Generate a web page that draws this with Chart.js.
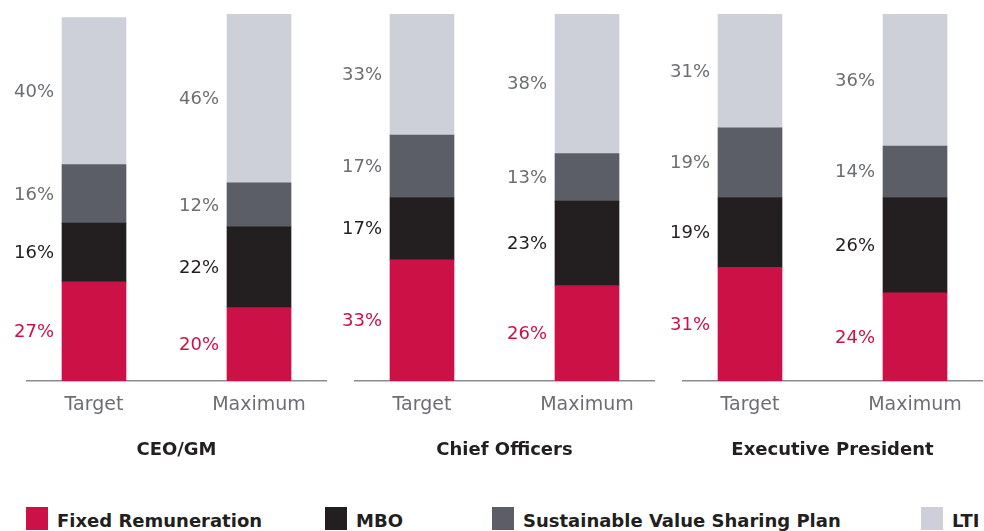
<!DOCTYPE html>
<html>
<head>
<meta charset="utf-8">
<script src="https://cdn.jsdelivr.net/npm/chart.js@4.4.1/dist/chart.umd.min.js"></script>
<style>
  html, body { margin: 0; padding: 0; background: #fff; }
  body { width: 984px; height: 531px; position: relative; overflow: hidden; font-family: "DejaVu Sans", sans-serif; }
  .panel { position: absolute; top: 0; width: 328px; height: 461px; }
  #legend { position: absolute; left: 0; top: 507px; width: 984px; height: 24px; }
  #legend ul { list-style: none; margin: 0; padding: 0; }
  #legend li { position: absolute; top: 0; display: flex; align-items: center; height: 23px; }
  #legend .box { width: 22px; height: 23px; margin-right: 9px; }
  #legend .txt { font-family: "DejaVu Sans", sans-serif; font-weight: 700; font-size: 18px; color: #231f20; padding-top: 3px; }
</style>
</head>
<body>
<div class="panel" style="left:0"><canvas id="chart-ceo"></canvas></div>
<div class="panel" style="left:328px"><canvas id="chart-chief"></canvas></div>
<div class="panel" style="left:656px"><canvas id="chart-ep"></canvas></div>
<div id="legend"><ul></ul></div>

<script>
// Data
const categories = ['Target', 'Maximum'];
const groups = ['CEO/GM', 'Chief Officers', 'Executive President'];
const seriesNames = ['Fixed Remuneration', 'MBO', 'Sustainable Value Sharing Plan', 'LTI'];

// per group: [Target, Maximum]
const fixedRemuneration = [[27, 20], [33, 26], [31, 24]];
const mbo = [[16, 22], [17, 23], [19, 26]];
const sustainablePlan = [[16, 12], [17, 13], [19, 14]];
const lti = [[40, 46], [33, 38], [31, 36]];

const barColors = ['#cc1147', '#231f20', '#5b5e66', '#cdd0d8'];
const labelColors = ['#cc1147', '#231f20', '#6b6e73', '#6b6e73'];
const legendLeft = [26, 325, 492, 921];

const canvasIds = ['chart-ceo', 'chart-chief', 'chart-ep'];

// Percent labels, drawn to the left of every segment
const segmentLabels = {
  id: 'segmentLabels',
  afterDatasetsDraw(c) {
    const ctx = c.ctx;
    ctx.save();
    ctx.font = '400 18px "DejaVu Sans", sans-serif';
    ctx.textAlign = 'right';
    ctx.textBaseline = 'middle';
    c.data.datasets.forEach((ds, i) => {
      const meta = c.getDatasetMeta(i);
      meta.data.forEach((bar, j) => {
        const p = bar.getProps(['x', 'y', 'base', 'width'], true);
        ctx.fillStyle = labelColors[i];
        ctx.fillText(ds.data[j].y + '%', p.x - p.width / 2 - 8, (p.y + p.base) / 2 + 1);
      });
    });
    ctx.restore();
  },
};

const seriesByGroup = [fixedRemuneration, mbo, sustainablePlan, lti];

groups.forEach((group, g) => {
  const ctx = document.getElementById(canvasIds[g]);
  new Chart(ctx, {
    type: 'bar',
    data: {
      datasets: seriesNames.map((name, s) => ({
        label: name,
        data: categories.map((cat, k) => ({ x: k, y: seriesByGroup[s][g][k] })),
        backgroundColor: barColors[s],
        borderWidth: 0,
        barThickness: 64,
      })),
    },
    options: {
      responsive: true,
      maintainAspectRatio: false,
      animation: false,
      layout: {
        padding: { left: 27, right: 2, top: 14, bottom: 0 },
      },
      plugins: {
        legend: { display: false },
        tooltip: { enabled: false },
      },
      scales: {
        x: {
          type: 'linear',
          stacked: true,
          offset: false,
          min: -0.406,
          max: 1.406,
          grid: { display: false, offset: false },
          border: { display: true, color: '#8a8c90', width: 1.5 },
          afterBuildTicks(scale) {
            scale.ticks = categories.map((c, k) => ({ value: k }));
          },
          ticks: {
            padding: 5,
            color: '#6b6e73',
            font: { family: '"DejaVu Sans", sans-serif', size: 19 },
            callback: (v) => categories[v],
          },
          title: {
            display: true,
            text: group,
            color: '#231f20',
            padding: { top: 0, bottom: 0 },
            font: { family: '"DejaVu Sans", sans-serif', size: 18, weight: 'bold' },
          },
          afterFit(scale) {
            scale.height = 80;
          },
        },
        y: {
          display: false,
          stacked: true,
          min: 0,
          max: 100,
        },
      },
    },
    plugins: [segmentLabels],
  });
});

// HTML legend across the three panels
const ul = document.querySelector('#legend ul');
seriesNames.forEach((name, s) => {
  const li = document.createElement('li');
  li.style.left = legendLeft[s] + 'px';
  const box = document.createElement('span');
  box.className = 'box';
  box.style.backgroundColor = barColors[s];
  const label = document.createElement('span');
  label.className = 'txt';
  label.appendChild(document.createTextNode(name));
  li.appendChild(box);
  li.appendChild(label);
  ul.appendChild(li);
});
</script>
</body>
</html>
